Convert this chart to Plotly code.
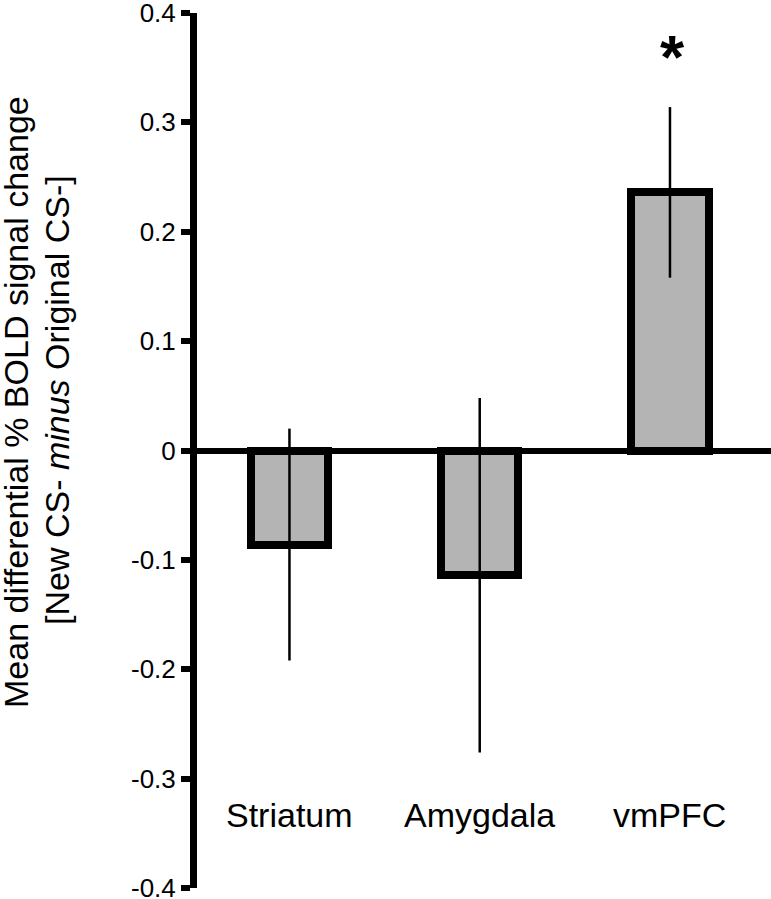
import plotly.graph_objects as go

categories = ["Striatum", "Amygdala", "vmPFC"]
means = [-0.086, -0.114, 0.236]
errors = [0.106, 0.162, 0.078]
tick_vals = [0.4, 0.3, 0.2, 0.1, 0.0, -0.1, -0.2, -0.3, -0.4]
tick_text = ["0.4", "0.3", "0.2", "0.1", "0", "-0.1", "-0.2", "-0.3", "-0.4"]
label_y = -0.333
star_y = 0.36
title_line1 = "Mean differential % BOLD signal change"
title_line2 = "[New CS- <i>minus</i> Original CS-]"

FONT = "Liberation Sans, Arial, sans-serif"
xpos = list(range(len(categories)))

L = 197
W = 771 - L

def px_to_paper(px):
    return (px - L) / W

fig = go.Figure()
fig.add_trace(go.Bar(
    x=xpos, y=means, width=0.405,
    marker=dict(color="#b4b4b4", line=dict(color="black", width=8)),
    error_y=dict(type="data", array=errors, visible=True, color="black",
                 thickness=2.5, width=0),
    showlegend=False,
))

for xi, name in zip(xpos, categories):
    fig.add_annotation(x=xi, y=label_y, text=name, showarrow=False,
                       font=dict(family=FONT, size=34, color="black"),
                       xanchor="center", yanchor="middle")

fig.add_annotation(x=2, y=star_y, xshift=3, text="<b>*</b>", showarrow=False,
                   font=dict(family=FONT, size=62, color="black"),
                   xanchor="center", yanchor="middle")

fig.add_annotation(xref="paper", yref="paper", x=px_to_paper(16), y=(888 - 402) / 875,
                   text=title_line1, textangle=-90, showarrow=False,
                   font=dict(family=FONT, size=34, color="black"),
                   xanchor="center", yanchor="middle")
fig.add_annotation(xref="paper", yref="paper", x=px_to_paper(57), y=(888 - 400) / 875,
                   text=title_line2, textangle=-90, showarrow=False,
                   font=dict(family=FONT, size=34, color="black"),
                   xanchor="center", yanchor="middle")

fig.update_layout(
    width=771, height=899,
    margin=dict(l=L, r=0, t=13, b=11, autoexpand=False),
    plot_bgcolor="white", paper_bgcolor="white",
    font=dict(family=FONT, color="black"),
    xaxis=dict(range=[-0.486, 2.531], showticklabels=False, showgrid=False,
               zeroline=False, showline=False, ticks="", automargin=False),
    yaxis=dict(range=[-0.4, 0.4], tickvals=tick_vals, ticktext=tick_text,
               showgrid=False, zeroline=True, zerolinecolor="black",
               zerolinewidth=6, showline=True, linecolor="black", linewidth=7,
               ticks="outside", ticklen=9, tickwidth=6, tickcolor="black",
               automargin=False, ticklabeloverflow="allow",
               ticklabelstandoff=0,
               tickfont=dict(family=FONT, size=26, color="black")),
    bargap=0,
)

fig.write_html("out.html", config={"displayModeBar": False},
               post_script="document.body.style.margin='0';document.body.style.overflow='hidden';")
